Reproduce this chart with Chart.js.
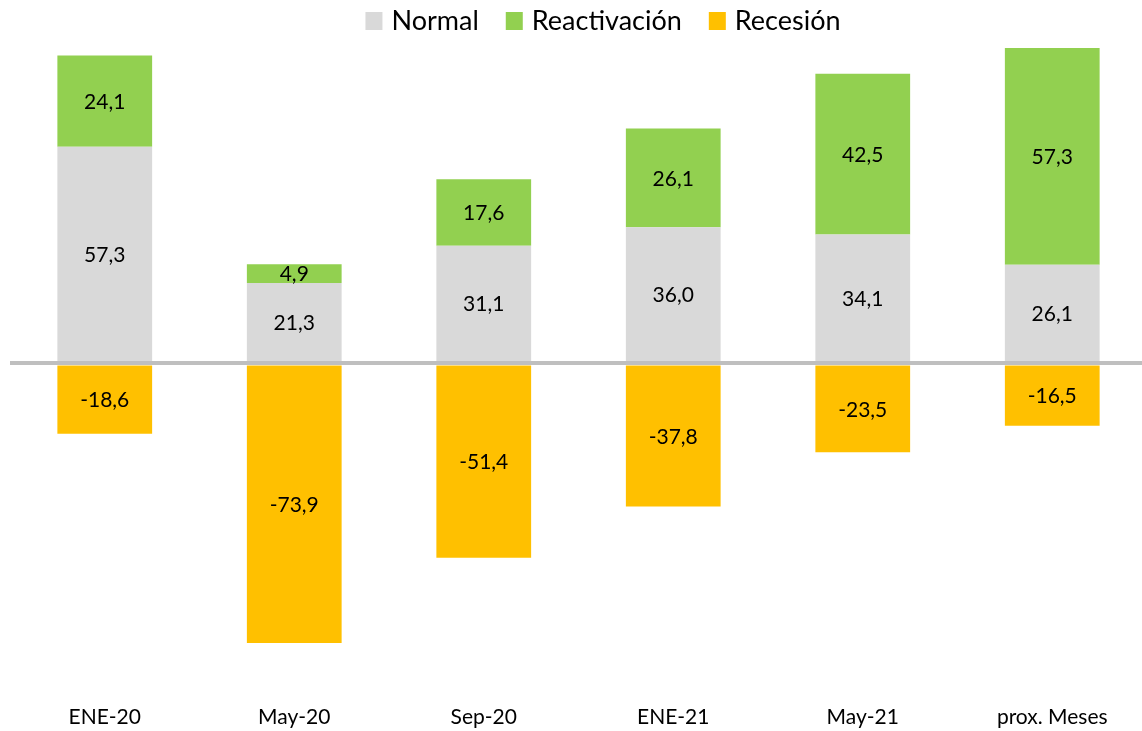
<!DOCTYPE html>
<html>
<head>
<meta charset="utf-8">
<script src="https://cdn.jsdelivr.net/npm/chart.js@4/dist/chart.umd.min.js"></script>
<style>
html,body{margin:0;padding:0;background:#fff;overflow:hidden;}
#wrap{width:1150px;height:731px;}
</style>
</head>
<body>
<div id="wrap"><canvas id="c" width="1150" height="731"></canvas></div>
<script>
const categories = ["ENE-20", "May-20", "Sep-20", "ENE-21", "May-21", "prox. Meses"];
const normal = [57.3, 21.3, 31.1, 36.0, 34.1, 26.1];
const reactivacion = [24.1, 4.9, 17.6, 26.1, 42.5, 57.3];
const recesion = [-18.6, -73.9, -51.4, -37.8, -23.5, -16.5];

const FONT = "Lato, 'Open Sans', sans-serif";

const valueLabels = {
  id: 'valueLabels',
  afterDatasetsDraw(chart) {
    const ctx = chart.ctx;
    ctx.save();
    ctx.fillStyle = '#000';
    ctx.font = '21px ' + FONT;
    ctx.textAlign = 'center';
    ctx.textBaseline = 'middle';
    chart.data.datasets.forEach((ds, i) => {
      const meta = chart.getDatasetMeta(i);
      meta.data.forEach((bar, j) => {
        const v = ds.data[j];
        const y = (bar.y + bar.base) / 2;
        ctx.fillText(v.toFixed(1).replace('.', ','), bar.x, y + 1);
      });
    });
    ctx.restore();
  }
};

const topLegend = {
  id: 'topLegend',
  afterDraw(chart) {
    const ctx = chart.ctx;
    ctx.save();
    ctx.font = '27px ' + FONT;
    ctx.textBaseline = 'middle';
    ctx.textAlign = 'left';
    const box = 17, boxH = 18, gap = 9, itemGap = 27;
    const items = chart.data.datasets.map(d => ({ text: d.label, color: d.backgroundColor, w: ctx.measureText(d.label).width }));
    const total = items.reduce((s, it) => s + box + gap + it.w, 0) + itemGap * (items.length - 1);
    let x = 603 - total / 2;
    const cy = 21;
    items.forEach(it => {
      ctx.fillStyle = it.color;
      ctx.fillRect(x, cy - boxH / 2, box, boxH);
      x += box + gap;
      ctx.fillStyle = '#000';
      ctx.fillText(it.text, x, cy);
      x += it.w + itemGap;
    });
    ctx.restore();
  }
};

new Chart(document.getElementById('c'), {
  type: 'bar',
  data: {
    labels: categories,
    datasets: [
      { label: 'Normal', data: normal, backgroundColor: '#D9D9D9', stack: 's' },
      { label: 'Reactivación', data: reactivacion, backgroundColor: '#92D050', stack: 's' },
      { label: 'Recesión', data: recesion, backgroundColor: '#FFC000', stack: 's' }
    ]
  },
  options: {
    responsive: false,
    animation: false,
    layout: { padding: { left: 10, right: 3, top: 42, bottom: 0 } },
    datasets: { bar: { categoryPercentage: 1.0, barPercentage: 0.5 } },
    plugins: {
      tooltip: { enabled: false },
      legend: { display: false }
    },
    scales: {
      x: {
        stacked: true,
        grid: { display: false, drawTicks: false },
        border: { display: false },
        ticks: { color: '#000', font: { size: 21, family: FONT }, padding: 1 }
      },
      y: {
        stacked: true,
        min: -90,
        max: 85,
        ticks: { display: false, stepSize: 5 },
        border: { display: false },
        grid: {
          drawTicks: false,
          color: (c) => c.tick && c.tick.value === 0 ? '#BFBFBF' : 'rgba(0,0,0,0)',
          lineWidth: (c) => c.tick && c.tick.value === 0 ? 4 : 0,
          z: 1
        }
      }
    }
  },
  plugins: [valueLabels, topLegend]
});
</script>
</body>
</html>
